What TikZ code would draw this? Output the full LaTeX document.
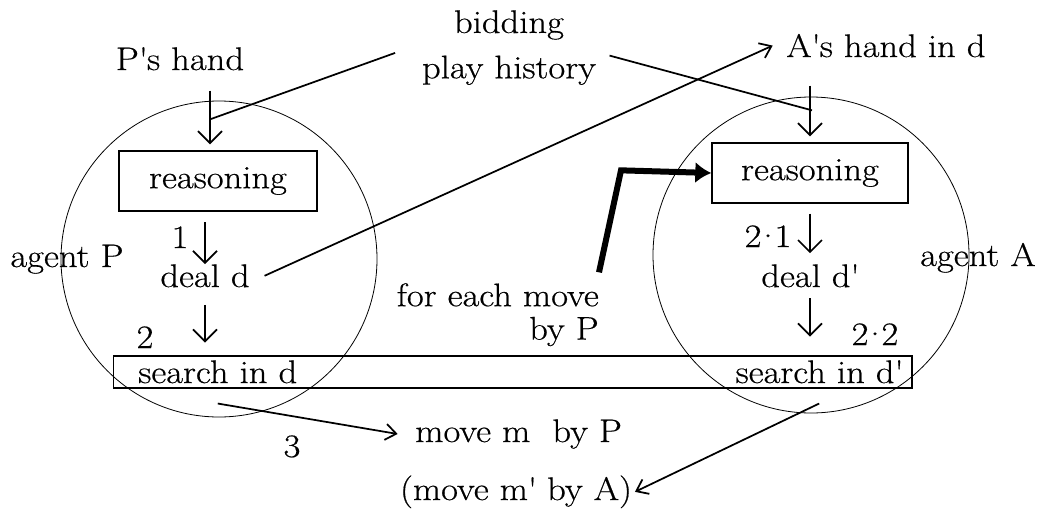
\documentclass[tikz,border=0pt]{standalone}
\usepackage{fontspec}
\setmainfont{Latin Modern Roman}[FakeStretch=1.12,FakeBold=0.5]
\usepackage{tikz}
\usetikzlibrary{arrows.meta,calc,positioning}
\newcommand{\apos}{\textquotesingle}
\newcommand{\substep}[2]{#1\kern-5pt\textperiodcentered\kern-5pt#2}

\begin{document}
\begin{tikzpicture}[x=0.75pt,y=-0.75pt,
  font=\fontsize{24.5}{25}\selectfont,
  txt/.style={inner sep=0pt},
  box/.style={draw,line width=1pt,inner sep=0pt},
  agent/.style={draw,circle,line width=0.6pt,minimum size=237pt,inner sep=0pt},
  flow/.style={line width=1.3pt,-{Straight Barb[length=9pt,width=18pt]}},
  link/.style={line width=1.3pt,-{Straight Barb[length=8pt,width=12pt]}},
  feed/.style={line width=1.3pt},
  loopback/.style={line width=4.5pt,-{Latex[length=12pt,width=16pt]}}]
\useasboundingbox (0,0) rectangle (1039,518);

% agents
\node[agent] (agP) at (219,259) {};
\node[agent] (agA) at (811,255) {};
\node[txt,anchor=base] (labP) at (67,267) {agent P};
\node[txt,anchor=base] (labA) at (978,266) {agent A};

% inputs
\node[txt,anchor=base] (phand) at (180,70) {P\apos s hand};
\node[txt,anchor=north,align=center,font=\fontsize{24.5}{34}\selectfont] (hist) at (509,10) {bidding\\play history};
\node[txt,anchor=base west] (ahand) at (786,57) {A\apos s hand in d};

% reasoning
\node[box,minimum width=148.5pt,minimum height=45pt] (lreason) at (218,181) {reasoning};
\node[box,minimum width=147pt,minimum height=45pt] (rreason) at (810,173) {reasoning};

% deals
\node[txt,anchor=base] (ldeal) at (205,287) {deal d};
\node[txt,anchor=base] (rdeal) at (810,287) {deal d\apos};

% search
\node[box,minimum width=599pt,minimum height=24pt] (srch) at (512.5,372) {};
\node[txt,anchor=base west] (lsearch) at (138,383) {search in d};
\node[txt,anchor=base east] (rsearch) at (903,383) {search in d\apos};

% results
\node[txt,anchor=base west] (movep) at (415,442) {move m\ \ by P};
\node[txt,anchor=base] (movea) at (516,500) {(move m\apos\ by A)};
\node[txt,anchor=north east,align=right] (foreach) at (599,283) {for each move\\by P\hspace{14pt}};

% step numbers
\node[txt,anchor=base] (n1) at (180,248) {1};
\node[txt,anchor=base] (n2) at (145,348) {2};
\node[txt,anchor=base] (n21) at (768,247) {\substep{2}{1}};
\node[txt,anchor=base] (n22) at (875,345) {\substep{2}{2}};
\node[txt,anchor=base] (n3) at (292,457) {3};

% agent P
\draw[flow,shorten <=15pt,shorten >=4.5pt] ([xshift=-6pt]lreason.north |- phand.south) -- ([xshift=-6pt]lreason.north);
\path ([xshift=-6pt]lreason.north) ++(0,-31) coordinate (ljoin);
\draw[feed] ([xshift=-20pt,yshift=-4pt]hist.west) -- (ljoin);
\draw[flow,shorten <=8pt] (ldeal.north |- lreason.south) -- (ldeal.north);
\draw[flow,shorten <=13pt,shorten >=9.5pt] (ldeal.south) -- (ldeal.south |- srch.north);
\draw[link] ([xshift=11pt]ldeal.east) -- ([xshift=-10pt]ahand.west);
\draw[link] ([yshift=-15pt]lsearch.south) -- ([xshift=-13pt]movep.west);

% agent A
\draw[flow,shorten <=21pt,shorten >=4.5pt] (rreason.north |- ahand.south) -- (rreason.north);
\path (rreason.north) ++(2,-32) coordinate (rjoin);
\draw[feed] ([xshift=10pt,yshift=-6pt]hist.east) -- (rjoin);
\draw[flow,shorten <=7.5pt,shorten >=8pt] (rdeal.north |- rreason.south) -- (rdeal.north);
\draw[flow,shorten <=8pt,shorten >=14pt] (rdeal.south) -- (rdeal.south |- srch.north);
\draw[link] ([yshift=-15pt]rsearch.south) -- ([xshift=2pt]movea.east);

% repeat for each move
\draw[loopback] ([yshift=8pt]foreach.north east) -- ++(22,-102) -- (rreason.west);
\end{tikzpicture}
\end{document}
